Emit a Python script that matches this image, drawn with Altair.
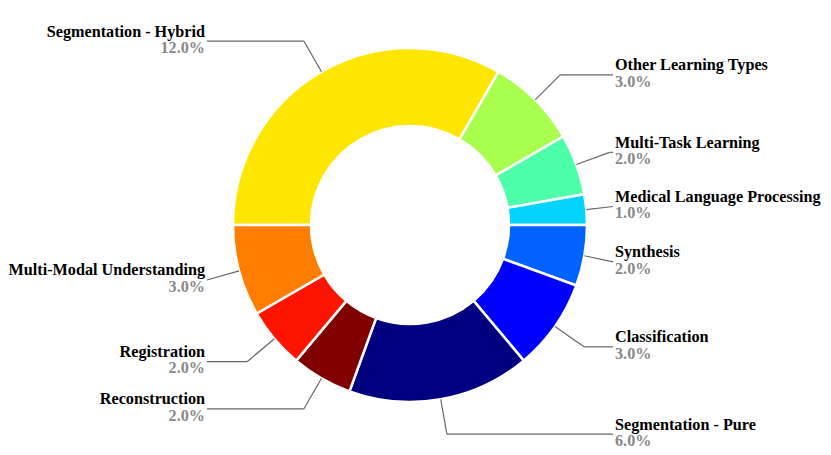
import altair as alt
import pandas as pd
import math

names = ["Segmentation - Hybrid", "Other Learning Types", "Multi-Task Learning",
         "Medical Language Processing", "Synthesis", "Classification",
         "Segmentation - Pure", "Reconstruction", "Registration",
         "Multi-Modal Understanding"]
values = [12.0, 3.0, 2.0, 1.0, 2.0, 3.0, 6.0, 2.0, 2.0, 3.0]
colors = ["#FFE600", "#A9FF4D", "#4EFFAA", "#00D4FF", "#0063FF", "#0000FF",
          "#000080", "#800000", "#FF1400", "#FF7D00"]

df = pd.DataFrame({"name": names, "value": values, "order": list(range(len(names)))})

W, H = 815, 447
CX, CY = 402, 217
R, RIN = 177, 99
RE = 1.2 * R
LX_R, LX_L = 605, 199

base = alt.Chart(df)

arcs = base.mark_arc(stroke="white", strokeWidth=2.5).encode(
    theta=alt.Theta("value:Q", stack=True,
                    scale=alt.Scale(range=[-math.pi / 2, 3 * math.pi / 2])),
    color=alt.Color("name:N", scale=alt.Scale(domain=names, range=colors), legend=None),
    order=alt.Order("order:Q", sort="ascending"),
    x=alt.value(CX), y=alt.value(CY),
    radius=alt.value(R), radius2=alt.value(RIN),
)

geo = base.transform_window(
    cum="sum(value)", sort=[alt.SortField("order", order="ascending")], frame=[None, 0]
).transform_joinaggregate(total="sum(value)").transform_calculate(
    mid=f"-PI/2 + 2*PI*(datum.cum - datum.value/2)/datum.total"
).transform_calculate(
    x0=f"{CX} + {R}*sin(datum.mid)",
    y0=f"{CY} - {R}*cos(datum.mid)",
    exr=f"{CX} + {RE}*sin(datum.mid)",
    ey=f"{CY} - {RE}*cos(datum.mid)",
    right="sin(datum.mid) >= 0",
).transform_calculate(
    lx=f"datum.right ? {LX_R} : {LX_L}",
    ex=f"datum.right ? min(datum.exr, {LX_R}) : max(datum.exr, {LX_L})",
    pct="format(datum.value, '.1f') + '%'",
)

seg1 = geo.mark_rule(color="#666666", strokeWidth=1.2).encode(
    x=alt.X("x0:Q", scale=None), y=alt.Y("y0:Q", scale=None),
    x2="ex:Q", y2="ey:Q",
)
seg2 = geo.mark_rule(color="#666666", strokeWidth=1.2).encode(
    x=alt.X("ex:Q", scale=None), y=alt.Y("ey:Q", scale=None),
    x2="lx:Q", y2="ey:Q",
)

font = "Liberation Serif"

def label_layer(side_right, field, dy, color):
    filt = "datum.right" if side_right else "!datum.right"
    return geo.transform_filter(filt).transform_calculate(
        tx=f"datum.lx + {2 if side_right else -2}"
    ).mark_text(
        align="left" if side_right else "right", baseline="alphabetic",
        dy=dy, font=font, fontSize=16.2, fontWeight="bold", color=color,
    ).encode(
        x=alt.X("tx:Q", scale=None), y=alt.Y("ey:Q", scale=None),
        text=f"{field}:N",
    )

layers = [arcs, seg1, seg2]
for s in (True, False):
    layers.append(label_layer(s, "name", -4.5, "#000000"))
    layers.append(label_layer(s, "pct", 11.8, "#888888"))

chart = alt.layer(*layers).properties(
    width=W, height=H, padding=0, autosize="none"
).configure_view(stroke=None)

chart.save("out.html", embed_options={"renderer": "svg", "actions": False})
